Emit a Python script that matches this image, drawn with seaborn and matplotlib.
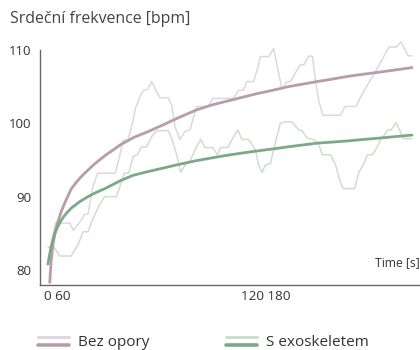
import matplotlib
matplotlib.use("Agg")
import matplotlib.pyplot as plt
import seaborn as sns
from matplotlib.legend_handler import HandlerBase
from matplotlib.lines import Line2D

# raw heart rate, no support
bez_t = [0, 6, 18, 21, 27.5, 30, 33, 37, 41, 55.5, 59, 62, 66, 70, 72, 75.8, 78.5, 82,
         85.5, 89.6, 92.3, 99, 102, 104.7, 108.8, 113, 117, 122.5, 132, 136, 153, 157,
         161, 164, 169.5, 173.7, 175, 182, 186, 189, 193, 197, 200, 204, 208, 211, 215,
         218, 220, 223, 226, 227, 241, 245, 254, 257, 265, 269, 273, 277, 281, 287, 291,
         295, 297, 300]
bez_hr = [81.0, 86.4, 86.4, 85.4, 86.8, 87.6, 87.6, 91.4, 93.2, 93.2, 95.5, 97.7, 97.7,
          100.3, 102.0, 103.6, 104.5, 104.6, 105.7, 104.3, 103.5, 103.5, 102.5, 99.5,
          97.8, 98.9, 99.1, 102.3, 102.3, 103.4, 103.4, 104.5, 104.5, 105.7, 105.7, 108.0,
          109.1, 109.1, 110.2, 107.7, 104.6, 105.7, 105.7, 106.9, 108.0, 108.0, 109.2,
          109.1, 106.4, 103.2, 101.4, 101.1, 101.1, 102.3, 102.3, 103.4, 105.7, 106.8,
          108.0, 109.2, 110.4, 110.4, 111.1, 109.8, 109.2, 109.2]

# raw heart rate, with exoskeleton
exo_t = [0, 5, 9.6, 19, 24.7, 28.8, 33, 37, 42.6, 46.7, 56.3, 60.4, 63.2, 66.5, 70.3,
         73.6, 77.2, 81.3, 85.5, 89.6, 99.2, 101.9, 106.1, 109.4, 112.9, 117, 121.2,
         125.8, 129.4, 135.7, 139.6, 142.3, 148.3, 153, 156.5, 159.8, 165.4, 170.9, 173.7,
         176.4, 179.2, 183.3, 187.4, 191.5, 195.6, 201.1, 206.6, 209.4, 213.5, 219, 223.4,
         226.1, 233, 237.1, 241.2, 243.4, 252.8, 256.3, 260.4, 263.2, 267.3, 271.5, 274.2,
         280.2, 283, 286.6, 290.1, 292.8, 300]
exo_hr = [83.1, 83.1, 81.9, 81.9, 83.4, 85.2, 85.2, 87.0, 88.9, 90.0, 90.0, 91.9, 93.2,
          93.2, 95.5, 95.7, 96.8, 96.8, 98.2, 99.0, 99.0, 98.0, 95.7, 93.3, 94.3, 94.8,
          96.4, 97.8, 96.7, 96.7, 95.7, 96.7, 96.7, 98.2, 99.1, 97.8, 97.8, 96.4, 94.3,
          93.3, 94.3, 94.5, 97.3, 100.0, 100.2, 100.2, 99.1, 99.0, 98.0, 97.8, 97.0, 95.7,
          95.7, 94.3, 91.8, 91.1, 91.1, 93.4, 94.5, 95.7, 95.7, 96.8, 97.8, 99.1, 99.1,
          100.1, 99.0, 97.9, 97.9]

# smoothed trends
bez_trend_t = [1.5, 2.5, 4, 6, 8, 11, 14, 19, 24, 29, 38, 47, 60, 71, 83, 95, 108, 122,
               135, 147, 159, 171, 185, 198, 210, 222, 235, 247, 260, 274, 287, 300]
bez_trend = [78.3, 81.0, 83.3, 85.2, 86.5, 88.0, 89.2, 91.0, 92.1, 93.0, 94.4, 95.6,
             97.1, 98.1, 98.9, 99.8, 100.8, 101.8, 102.5, 103.0, 103.5, 104.0, 104.5,
             105.0, 105.35, 105.7, 106.05, 106.4, 106.7, 107.0, 107.3, 107.6]
exo_trend_t = [0, 1.5, 2.7, 5, 8, 11, 14, 19, 26, 33, 40, 47, 60, 70, 82, 95, 108, 122,
               134, 146, 158, 171, 185, 198, 210, 222, 235, 247, 260, 274, 287, 300]
exo_trend = [80.8, 82.2, 83.2, 84.7, 85.9, 86.8, 87.5, 88.4, 89.3, 90.0, 90.6, 91.1,
             92.2, 92.9, 93.4, 93.9, 94.4, 94.9, 95.25, 95.6, 95.9, 96.2, 96.5, 96.8,
             97.05, 97.3, 97.45, 97.6, 97.8, 98.0, 98.2, 98.4]

series = ["Bez opory", "S exoskeletem"]
y_ticks = [80, 90, 100, 110]
x_ticks = [100, 200, 300]

light = ["#dcd7e3", "#cbe0cb"]
dark = ["#b99ca6", "#7da886"]

sns.set_style("white")
plt.rcParams["font.family"] = ["Open Sans", "DejaVu Sans"]

fig = plt.figure(figsize=(4.2, 3.5), dpi=100)
ax = fig.add_axes([39.7 / 420, 65 / 350, 380.3 / 420, 235 / 350])

sns.lineplot(x=bez_t, y=bez_hr, ax=ax, color=light[0], lw=1.1)
sns.lineplot(x=exo_t, y=exo_hr, ax=ax, color=light[1], lw=1.1)
sns.lineplot(x=bez_trend_t, y=bez_trend, ax=ax, color=dark[0], lw=2.0)
sns.lineplot(x=exo_trend_t, y=exo_trend, ax=ax, color=dark[1], lw=2.0)
for ln in ax.get_lines():
    ln.set_clip_on(False)
    ln.set_solid_joinstyle("round")

ax.set_xlim(-6.8, 306.6)
ax.set_ylim(77.95, 110)
ax.set_yticks(y_ticks)
ax.set_xticks(x_ticks)
ax.set_xticklabels([])
ax.set_xlabel("")
ax.set_ylabel("")
sns.despine(ax=ax)
for s in ["left", "bottom"]:
    ax.spines[s].set_color("#666666")
    ax.spines[s].set_linewidth(1.0)
ax.tick_params(axis="y", direction="out", length=3, width=1, color="#666666",
               labelsize=9.5, labelcolor="#333333", pad=3)
ax.tick_params(axis="x", direction="in", length=3, width=1, color="#666666")

ax.text(-3.3, -0.047, "0 60", transform=ax.get_xaxis_transform(), ha="left",
        va="center", fontsize=9.7, color="#333333")
ax.text(199.5, -0.047, "120 180", transform=ax.get_xaxis_transform(), ha="right",
        va="center", fontsize=9.7, color="#333333")
ax.text(1.0, 0.096, "Time [s]", transform=ax.transAxes, ha="right", va="center",
        fontsize=8.7, color="#333333")
fig.text(10 / 420, 1 - 19 / 350, "Srdeční frekvence [bpm]", ha="left", va="center",
         fontsize=11.4, color="#444444")


class TwoLineHandler(HandlerBase):
    def create_artists(self, legend, orig_handle, xdescent, ydescent, width, height,
                       fontsize, trans):
        c1, c2 = orig_handle
        top = Line2D([-xdescent, width - xdescent], [height * 0.8, height * 0.8],
                     color=c1, lw=2.2, transform=trans)
        bot = Line2D([-xdescent, width - xdescent], [height * 0.05, height * 0.05],
                     color=c2, lw=2.6, transform=trans)
        return [top, bot]


for i, (name, x0) in enumerate(zip(series, [38, 226])):
    fig.legend(handles=[(light[i], dark[i])], labels=[name],
               handler_map={tuple: TwoLineHandler()},
               loc="center left", bbox_to_anchor=(x0 / 420, 1 - 342 / 350),
               frameon=False, fontsize=11, handlelength=2.0, handletextpad=0.6,
               borderpad=0, borderaxespad=0, labelcolor="#333333")

fig.savefig("out.png", dpi=100)
